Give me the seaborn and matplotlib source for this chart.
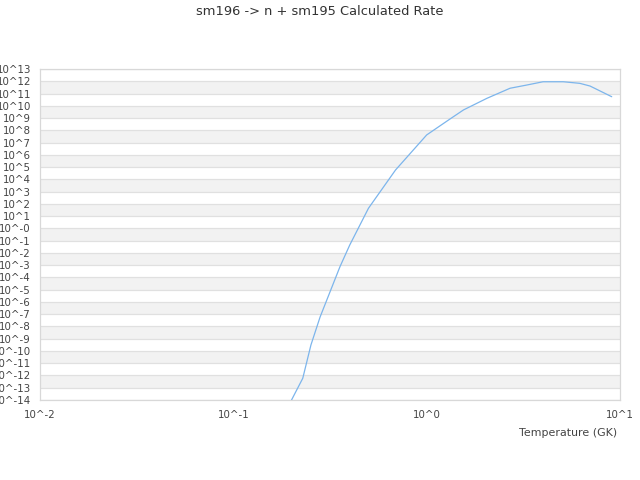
import matplotlib
matplotlib.use('Agg')
import matplotlib.pyplot as plt
import seaborn as sns
import pandas as pd

# Values
temperature = [0.2, 0.2286, 0.252, 0.281, 0.356, 0.40, 0.50, 0.69, 1.0, 1.32, 1.55, 2.05,
               2.7, 3.29, 4.0, 5.09, 6.2, 7.0, 9.06]
log_rate = [-14.0, -12.23, -9.51, -7.23, -3.13, -1.36, 1.64, 4.76, 7.62, 8.92, 9.66, 10.61,
            11.43, 11.69, 11.96, 11.96, 11.83, 11.61, 10.74]
x_ticks = [-2, -1, 0, 1]
y_ticks = list(range(-14, 14))

df = pd.DataFrame({'T': temperature, 'rate': [10.0 ** v for v in log_rate]})

sns.set_style('white')
plt.rcParams['font.family'] = ['DejaVu Sans']

fig = plt.figure(figsize=(6.4, 4.8), dpi=100)
ax = fig.add_axes([40 / 640, 80 / 480, 580 / 640, 331 / 480])

# alternating bands
for k in y_ticks[:-1]:
    if (13 - k) % 2 == 0:
        ax.axhspan(10.0 ** k, 10.0 ** (k + 1), color='#f2f2f2', lw=0, zorder=0)

sns.lineplot(data=df, x='T', y='rate', ax=ax, color='#7cb5ec', linewidth=0.9, zorder=3)

ax.set_xscale('log')
ax.set_yscale('log')
ax.set_xlim(10.0 ** x_ticks[0], 10.0 ** x_ticks[-1])
ax.set_ylim(10.0 ** y_ticks[0], 10.0 ** y_ticks[-1])

ax.set_xticks([10.0 ** v for v in x_ticks])
ax.set_xticklabels([f'10^{v}' for v in x_ticks])
ax.set_yticks([10.0 ** v for v in y_ticks])
ax.set_yticklabels(['10^-0' if v == 0 else f'10^{v}' for v in y_ticks])
ax.minorticks_off()
ax.tick_params(axis='both', length=0, labelsize=7.4, colors='#444444')
ax.tick_params(axis='x', pad=7)
ax.tick_params(axis='y', pad=6.5)

ax.grid(axis='y', color='#e0e0e0', linewidth=0.9)
ax.set_axisbelow(True)
for s in ax.spines.values():
    s.set_color('#d8d8d8')
    s.set_linewidth(0.9)

ax.set_xlabel('Temperature (GK)', fontsize=7.95, color='#444444')
ax.xaxis.label.set_ha('right')
ax.xaxis.set_label_coords(577 / 580, -0.085)
ax.set_ylabel('')
fig.suptitle('sm196 -> n + sm195 Calculated Rate', fontsize=9.4, color='#333333', y=0.99)

fig.savefig('out.png', dpi=100)
